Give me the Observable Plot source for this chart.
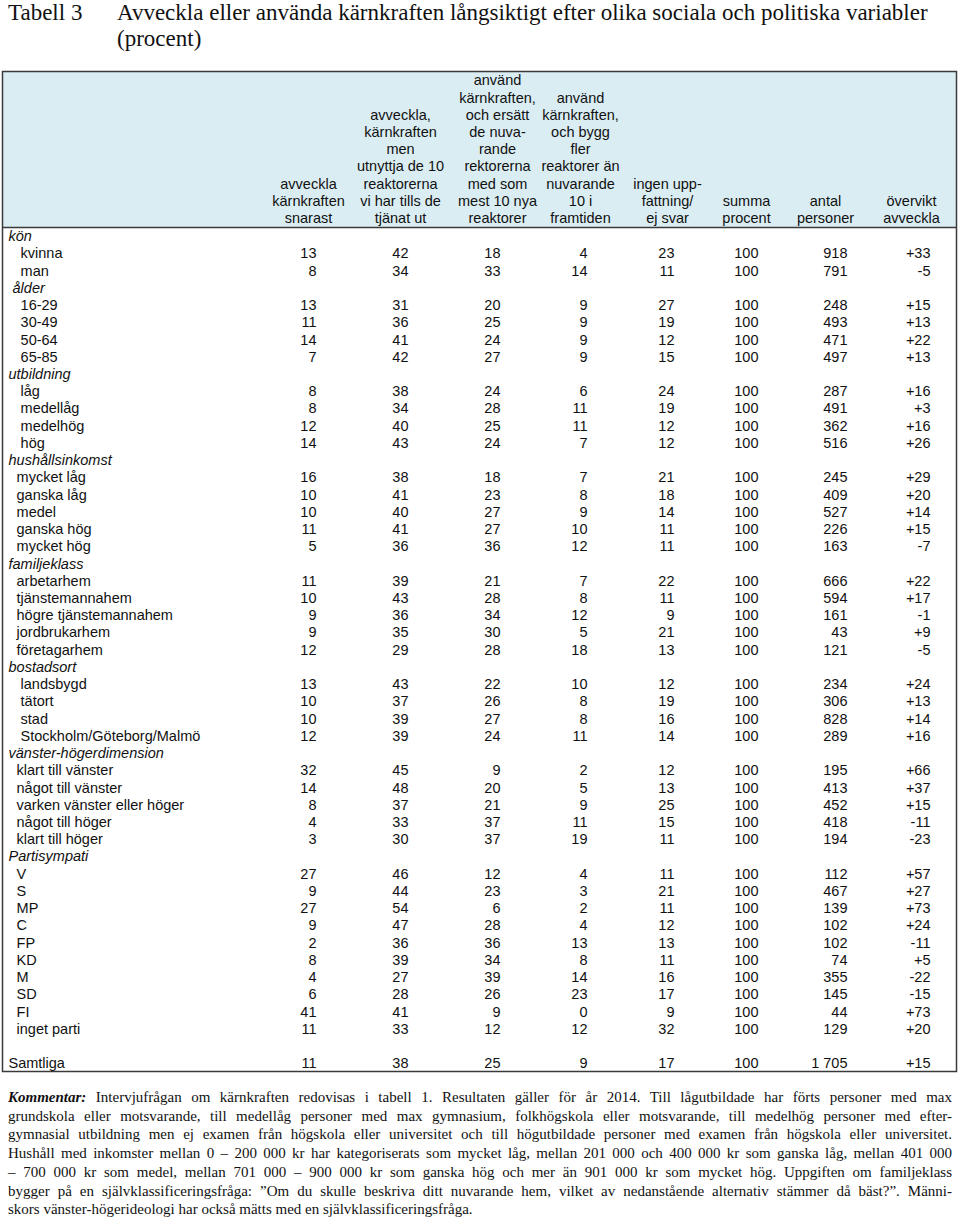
<!DOCTYPE html>
<html>
<head>
<meta charset="utf-8">
<script src="https://cdn.jsdelivr.net/npm/d3@7"></script>
<script src="https://cdn.jsdelivr.net/npm/@observablehq/plot@0.6"></script>
<style>
  html, body { margin: 0; padding: 0; background: #fff; }
  body { width: 960px; }
  #title { position: relative; height: 62px; font-family: "Liberation Serif", "Times New Roman", serif; font-size: 23px; line-height: 26px; color: #111; white-space: nowrap; }
  #title .num { position: absolute; left: 8px; top: 0; }
  #title .txt { position: absolute; left: 117px; top: 0; }
  svg { display: block; }
  #foot { margin-top: 8px; padding-left: 8px; width: 944px; font-family: "Liberation Serif", "Times New Roman", serif; font-size: 15px; line-height: 18.7px; color: #111; }
  #foot div { text-align: justify; text-align-last: justify; }
  #foot div.last { text-align-last: left; }
  #foot .k { font-style: italic; font-weight: bold; }
</style>
</head>
<body>
<div id="title"><span class="num">Tabell 3</span><span class="txt">Avveckla eller använda kärnkraften långsiktigt efter olika sociala och politiska variabler<br>(procent)</span></div>
<div id="chart"></div>
<div id="foot">
  <div><span class="k">Kommentar:</span> Intervjufrågan om kärnkraften redovisas i tabell 1. Resultaten gäller för år 2014. Till lågutbildade har förts personer med max</div>
  <div>grundskola eller motsvarande, till medellåg personer med max gymnasium, folkhögskola eller motsvarande, till medelhög personer med efter-</div>
  <div>gymnasial utbildning men ej examen från högskola eller universitet och till högutbildade personer med examen från högskola eller universitet.</div>
  <div>Hushåll med inkomster mellan 0 – 200 000 kr har kategoriserats som mycket låg, mellan 201 000 och 400 000 kr som ganska låg, mellan 401 000</div>
  <div>– 700 000 kr som medel, mellan 701 000 – 900 000 kr som ganska hög och mer än 901 000 kr som mycket hög. Uppgiften om familjeklass</div>
  <div>bygger på en självklassificeringsfråga: ”Om du skulle beskriva ditt nuvarande hem, vilket av nedanstående alternativ stämmer då bäst?”. Männi-</div>
  <div class="last">skors vänster-högerideologi har också mätts med en självklassificeringsfråga.</div>
</div>
<script>
// ---- data ----
const rowLabels = [
  "kön", "   kvinna", "   man",
  " ålder", "   16-29", "   30-49", "   50-64", "   65-85",
  "utbildning", "   låg", "   medellåg", "   medelhög", "   hög",
  "hushållsinkomst", "  mycket låg", "  ganska låg", "  medel", "  ganska hög", "  mycket hög",
  "familjeklass", "  arbetarhem", "  tjänstemannahem", "  högre tjänstemannahem", "  jordbrukarhem", "  företagarhem",
  "bostadsort", "   landsbygd", "   tätort", "   stad", "   Stockholm/Göteborg/Malmö",
  "vänster-högerdimension", "  klart till vänster", "  något till vänster", "  varken vänster eller höger", "  något till höger", "  klart till höger",
  "Partisympati", "  V", "  S", "  MP", "  C", "  FP", "  KD", "  M", "  SD", "  FI", "  inget parti",
  "",
  "Samtliga"
];
const n = null;
const avvecklaSnarast = [n,13,8, n,13,11,14,7, n,8,8,12,14, n,16,10,10,11,5, n,11,10,9,9,12, n,13,10,10,12, n,32,14,8,4,3, n,27,9,27,9,2,8,4,6,41,11, n, 11];
const utnyttja10     = [n,42,34, n,31,36,41,42, n,38,34,40,43, n,38,41,40,41,36, n,39,43,36,35,29, n,43,37,39,39, n,45,48,37,33,30, n,46,44,54,47,36,39,27,28,41,33, n, 38];
const ersattNya      = [n,18,33, n,20,25,24,27, n,24,28,25,24, n,18,23,27,27,36, n,21,28,34,30,28, n,22,26,27,24, n,9,20,21,37,37, n,12,23,6,28,36,34,39,26,9,12, n, 25];
const byggFler       = [n,4,14, n,9,9,9,9, n,6,11,11,7, n,7,8,9,10,12, n,7,8,12,5,18, n,10,8,8,11, n,2,5,9,11,19, n,4,3,2,4,13,8,14,23,0,12, n, 9];
const ingenSvar      = [n,23,11, n,27,19,12,15, n,24,19,12,12, n,21,18,14,11,11, n,22,11,9,21,13, n,12,19,16,14, n,12,13,25,15,11, n,11,21,11,12,13,11,16,17,9,32, n, 17];
const summaProcent   = [n,100,100, n,100,100,100,100, n,100,100,100,100, n,100,100,100,100,100, n,100,100,100,100,100, n,100,100,100,100, n,100,100,100,100,100, n,100,100,100,100,100,100,100,100,100,100, n, 100];
const antalPersoner  = [n,918,791, n,248,493,471,497, n,287,491,362,516, n,245,409,527,226,163, n,666,594,161,43,121, n,234,306,828,289, n,195,413,452,418,194, n,112,467,139,102,102,74,355,145,44,129, n, 1705];
const overviktAvveckla = [n,33,-5, n,15,13,22,13, n,16,3,16,26, n,29,20,14,15,-7, n,22,17,-1,9,-5, n,24,13,14,16, n,66,37,15,-11,-23, n,57,27,73,24,-11,5,-22,-15,73,20, n, 15];

const headerLines = [
  ["avveckla", "kärnkraften", "snarast"],
  ["avveckla,", "kärnkraften", "men", "utnyttja de 10", "reaktorerna", "vi har tills de", "tjänat ut"],
  ["använd", "kärnkraften,", "och ersätt", "de nuva-", "rande", "rektorerna", "med som", "mest 10 nya", "reaktorer"],
  ["använd", "kärnkraften,", "och bygg", "fler", "reaktorer än", "nuvarande", "10 i", "framtiden"],
  ["ingen upp-", "fattning/", "ej svar"],
  ["summa", "procent"],
  ["antal", "personer"],
  ["övervikt", "avveckla"]
];

// ---- layout (positions / styles) ----
const layout = {
  numRight:   [316, 408, 500, 587, 674, 758, 847, 930],
  headCenter: [308, 400, 497, 580, 667, 746, 825, 911],
  labelX: 8,
  tableTop: -9.58,
  headBottom: -0.52,
  tableBottom: 48.46,
  headLastRow: -1.05
};

const columns = [avvecklaSnarast, utnyttja10, ersattNya, byggFler, ingenSvar, summaProcent, antalPersoner, overviktAvveckla];
const formatters = [
  String, String, String, String, String, String,
  v => (v >= 1000 ? d3.format(",")(v).replace(/,/g, " ") : String(v)),
  v => (v > 0 ? "+" + v : String(v))
];

const cells = [];
columns.forEach((col, c) => col.forEach((v, r) => {
  if (v !== null) cells.push({row: r, x: layout.numRight[c], text: formatters[c](v)});
}));

const heads = [];
headerLines.forEach((lines, c) => lines.forEach((t, j) => {
  heads.push({row: layout.headLastRow - (lines.length - 1 - j), x: layout.headCenter[c], text: t});
}));

const nbsp = s => s.replace(/^ +/, m => "\u00a0".repeat(m.length));
const labels = rowLabels.map((t, r) => ({
  row: r, text: nbsp(t),
  group: t !== "" && columns.every(col => col[r] === null)
})).filter(d => d.text !== "");

const textStyle = {fontSize: 14.5, fill: "#111", lineAnchor: "middle"};

const chart = Plot.plot({
  width: 960,
  height: 1018,
  marginLeft: 2, marginRight: 4, marginTop: 9, marginBottom: 9,
  x: {domain: [2, 956], axis: null},
  y: {domain: [layout.tableTop, layout.tableBottom], range: [9, 1009], axis: null},
  style: {fontFamily: "'Liberation Sans', Arial, Helvetica, sans-serif", fontSize: "14.5px", color: "#111", background: "#fff", overflow: "visible"},
  marks: [
    Plot.rect([0], {y1: layout.tableTop, y2: layout.headBottom, fill: "#daedf3"}),
    Plot.ruleY([layout.headBottom], {stroke: "#3a3a3a", strokeWidth: 1.5}),
    Plot.frame({stroke: "#3a3a3a", strokeWidth: 1.5}),
    Plot.text(heads, {x: "x", y: "row", text: "text", textAnchor: "middle", ...textStyle}),
    Plot.text(labels.filter(d => d.group), {x: () => layout.labelX, y: "row", text: "text", textAnchor: "start", fontStyle: "italic", ...textStyle}),
    Plot.text(labels.filter(d => !d.group), {x: () => layout.labelX, y: "row", text: "text", textAnchor: "start", ...textStyle}),
    Plot.text(cells, {x: "x", y: "row", text: "text", textAnchor: "end", ...textStyle})
  ]
});
document.getElementById("chart").appendChild(chart);
</script>
</body>
</html>
